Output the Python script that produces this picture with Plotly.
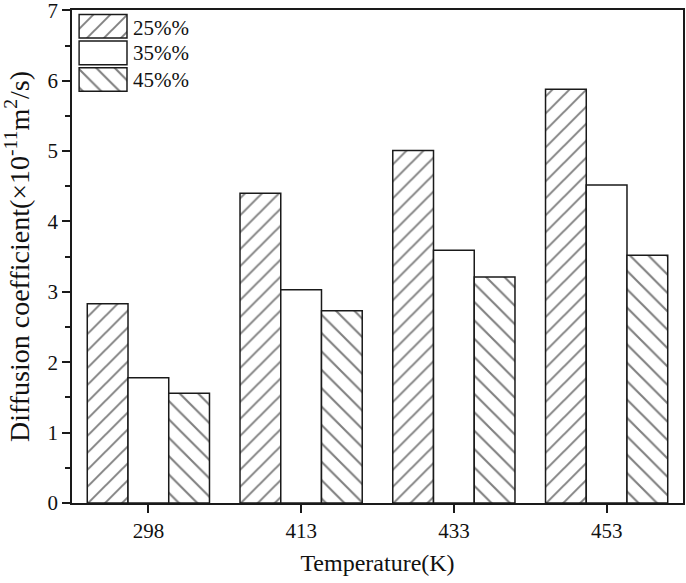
import plotly.graph_objects as go

temperatures = ["298", "413", "433", "453"]
series_names = ["25%%", "35%%", "45%%"]
values_25 = [2.83, 4.40, 5.01, 5.88]
values_35 = [1.78, 3.03, 3.59, 4.52]
values_45 = [1.56, 2.73, 3.21, 3.52]
y_ticks = [0, 1, 2, 3, 4, 5, 6, 7]

FONT = "Liberation Serif, Times New Roman, serif"
LINE = "#1a1a1a"

patterns = [
    dict(shape="/", size=12, solidity=0.16, fgcolor="#000000", bgcolor="white"),
    dict(shape="", bgcolor="white"),
    dict(shape="\\", size=13, solidity=0.16, fgcolor="#000000", bgcolor="white"),
]
all_values = [values_25, values_35, values_45]

fig = go.Figure()
for name, vals, pat in zip(series_names, all_values, patterns):
    fig.add_trace(go.Bar(
        x=temperatures, y=vals, name=name, showlegend=False,
        marker=dict(color="white", pattern=pat, line=dict(color=LINE, width=1.5)),
    ))

# Legend swatches drawn as horizontal bars on an auxiliary axis
legend_y_paper = [0.9645, 0.912, 0.859]
for i, (name, pat) in enumerate(zip(series_names, patterns)):
    fig.add_trace(go.Bar(
        x=[1], y=[i], orientation="h", width=0.885, showlegend=False,
        xaxis="x2", yaxis="y2", hoverinfo="skip",
        marker=dict(color="white", pattern=pat, line=dict(color=LINE, width=1.5)),
    ))
    fig.add_annotation(
        x=0.097, y=legend_y_paper[i], xref="paper", yref="paper", text=name,
        showarrow=False, xanchor="left", yanchor="middle",
        font=dict(family=FONT, size=21, color="#111"),
    )

fig.update_layout(
    width=686, height=583,
    margin=dict(l=72, r=3, t=10, b=80, autoexpand=False),
    paper_bgcolor="white", plot_bgcolor="white",
    barmode="group", bargap=0.2, bargroupgap=0,
    font=dict(family=FONT, color="#111"),
    xaxis=dict(
        type="category", range=[-0.5, 3.5], automargin=False,
        showline=True, linecolor=LINE, linewidth=1.8, mirror=True,
        ticks="outside", ticklen=8, tickwidth=1.5, tickcolor=LINE,
        tickfont=dict(family=FONT, size=21, color="#111"),
        showgrid=False, zeroline=False,
        title=dict(text="Temperature(K)", font=dict(family=FONT, size=24, color="#111"), standoff=12),
    ),
    yaxis=dict(
        range=[0, 7.005], tickvals=y_ticks, ticktext=[str(v) for v in y_ticks],
        ticklabeloverflow="allow", automargin=False,
        showline=True, linecolor=LINE, linewidth=1.8, mirror=True,
        ticks="outside", ticklen=8, tickwidth=1.5, tickcolor=LINE,
        minor=dict(dtick=0.5, ticks="outside", ticklen=5, tickwidth=1.5, tickcolor=LINE),
        tickfont=dict(family=FONT, size=21, color="#111"),
        showgrid=False, zeroline=False,
        title=dict(text="Diffusion coefficient(×10<sup>-11</sup>m<sup>2</sup>/s)",
                   font=dict(family=FONT, size=28, color="#111"), standoff=10),
    ),
    xaxis2=dict(domain=[0.0100, 0.0916], range=[-0.02, 1.02], anchor="y2",
                visible=False, fixedrange=True),
    yaxis2=dict(domain=[0.832, 0.994], range=[2.5, -0.5], anchor="x2",
                visible=False, fixedrange=True),
)

fig.write_html("out.html")
